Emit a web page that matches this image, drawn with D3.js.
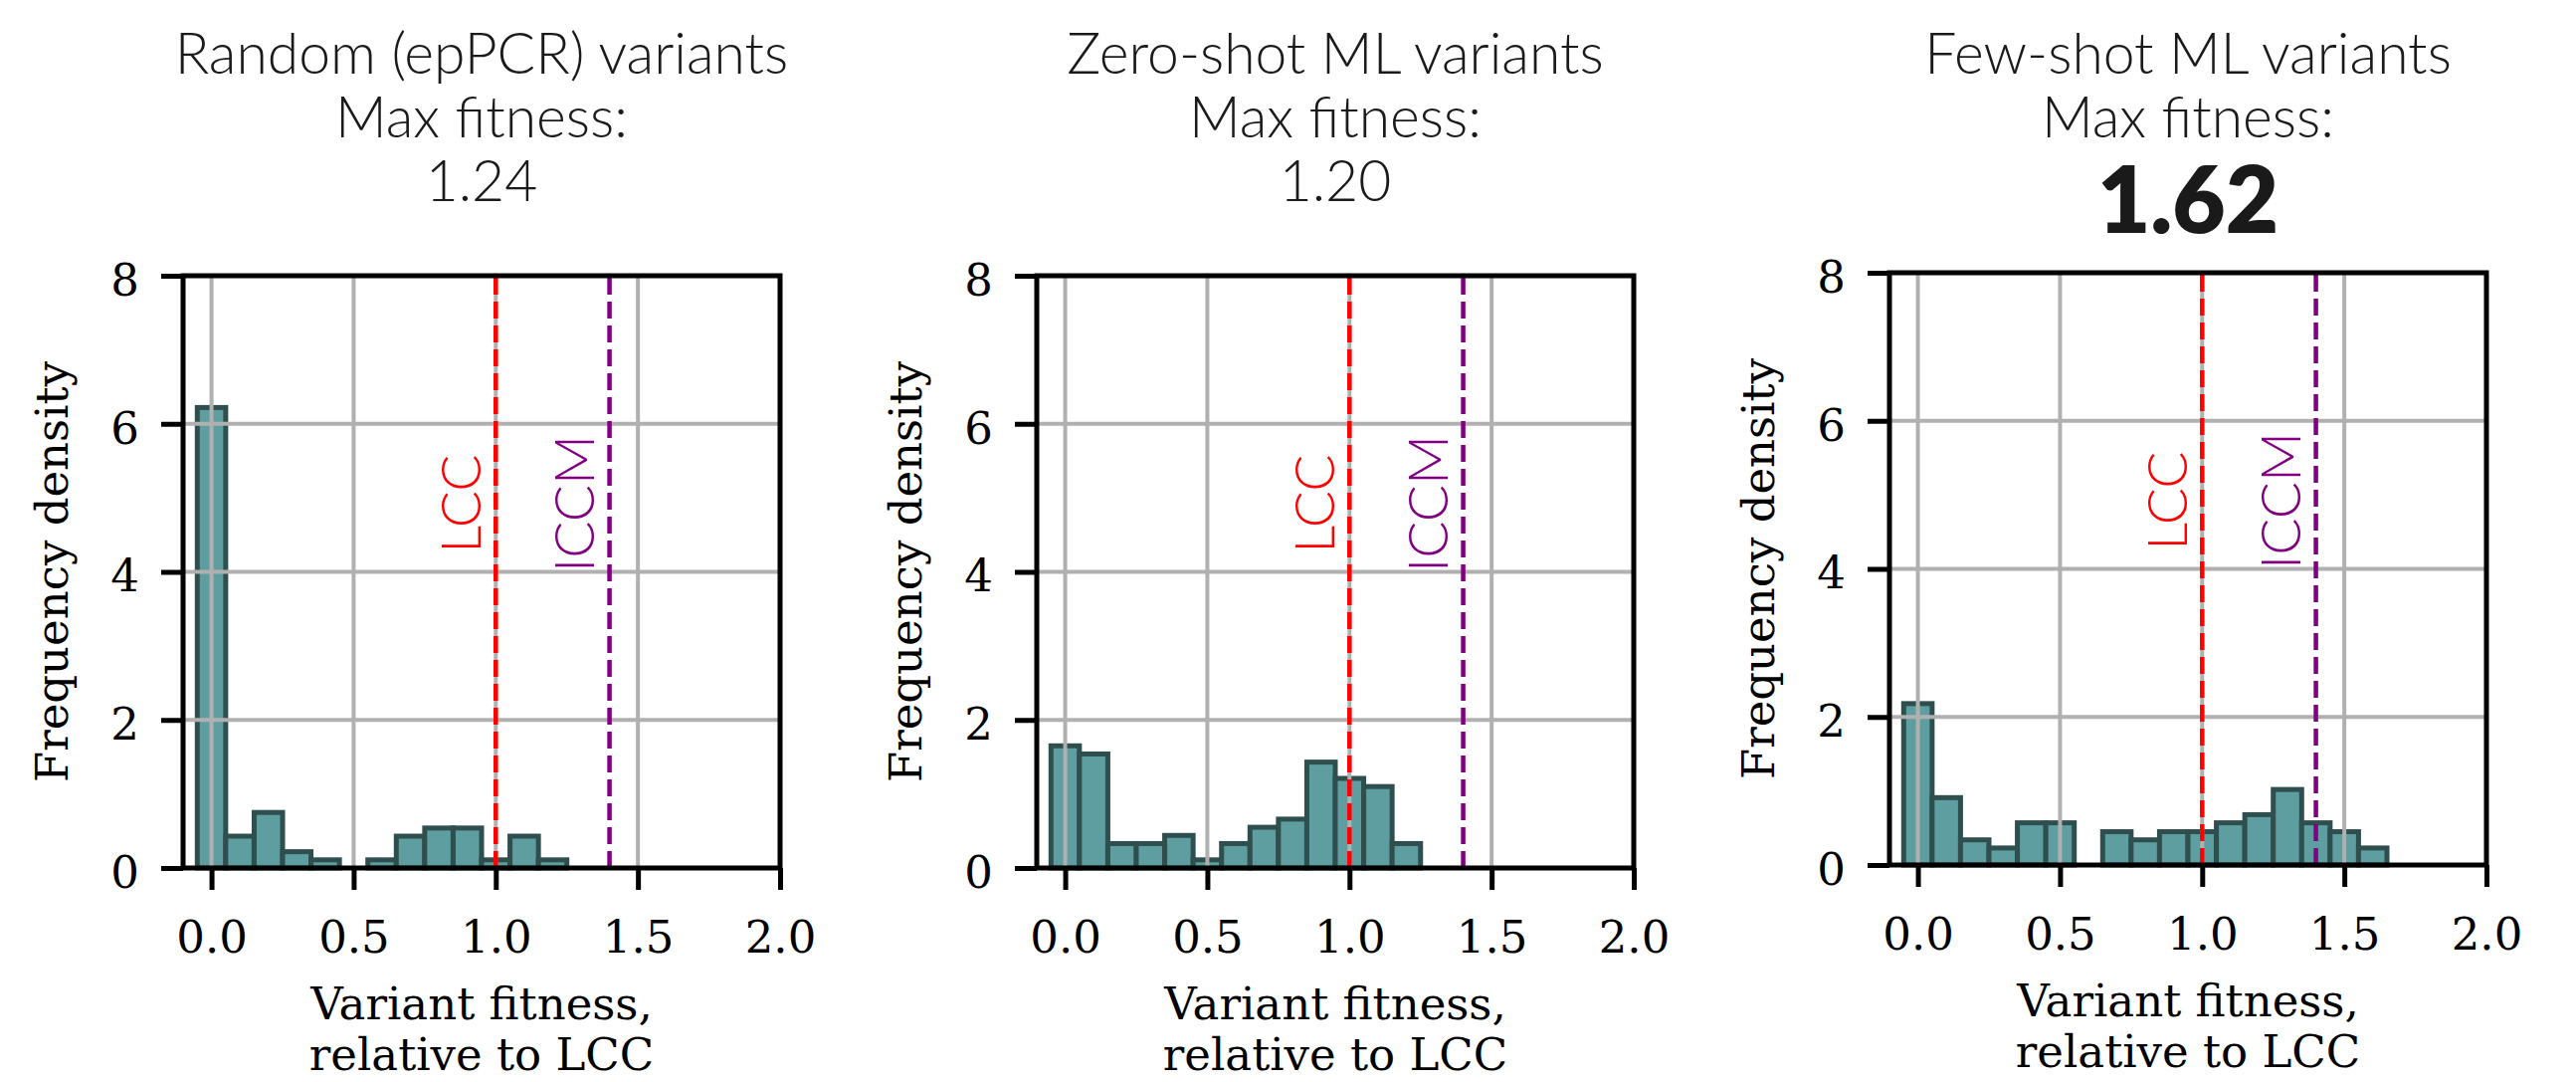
<!DOCTYPE html>
<html>
<head>
    <meta charset="utf-8" />
    <title>Variant fitness</title>
    <script src="https://cdnjs.cloudflare.com/ajax/libs/d3/7.8.5/d3.min.js"></script>
    <style>
        body { margin: 0; background: #fff; }
        svg { display: block; }
    </style>
</head>
<body>
<script>
    // panel headings
    var panelNames = ["Random (epPCR) variants", "Zero-shot ML variants", "Few-shot ML variants"];
    var maxFitness = ["1.24", "1.20", "1.62"];

    // histogram bins (centres, width 0.1) and frequency densities
    var randomBins = [0.0, 0.1, 0.2, 0.3, 0.4, 0.5, 0.6, 0.7, 0.8, 0.9, 1.0, 1.1, 1.2];
    var randomDensity = [6.22, 0.43, 0.75, 0.22, 0.11, 0, 0.11, 0.43, 0.54, 0.54, 0.11, 0.43, 0.11];

    var zeroShotBins = [0.0, 0.1, 0.2, 0.3, 0.4, 0.5, 0.6, 0.7, 0.8, 0.9, 1.0, 1.1, 1.2];
    var zeroShotDensity = [1.65, 1.54, 0.33, 0.33, 0.44, 0.11, 0.33, 0.55, 0.66, 1.43, 1.21, 1.10, 0.33];

    var fewShotBins = [0.0, 0.1, 0.2, 0.3, 0.4, 0.5, 0.6, 0.7, 0.8, 0.9, 1.0, 1.1, 1.2, 1.3, 1.4, 1.5, 1.6];
    var fewShotDensity = [2.18, 0.91, 0.34, 0.23, 0.57, 0.57, 0, 0.45, 0.34, 0.45, 0.45, 0.57, 0.68, 1.02, 0.57, 0.45, 0.23];

    // reference variants
    var refLabels = ["LCC", "ICCM"];
    var refValues = [1.0, 1.4];

    // axes
    var xTicks = [0.0, 0.5, 1.0, 1.5, 2.0];
    var yTicks = [0, 2, 4, 6, 8];
    var xDomain = [-0.1, 2.0];
    var yDomain = [0, 8];
    var binWidth = 0.1;

    var panels = [
        { bins: randomBins, density: randomDensity },
        { bins: zeroShotBins, density: zeroShotDensity },
        { bins: fewShotBins, density: fewShotDensity }
    ];

    // layout
    var width = 2589;
    var height = 1087;
    var plotW = 600;
    var plotH = 595;
    var panelLeft = [184, 1042, 1899];
    var panelTop = [277, 277, 274];
    var refColors = ["#ff0000", "#800080"];

    var sans = "Lato, 'Open Sans', sans-serif";
    var serif = "'DejaVu Serif', serif";

    var svg = d3.select("body")
        .append("svg")
        .attr("width", width)
        .attr("height", height);

    panels.forEach(function (p, i) {
        var cx = panelLeft[i] + plotW / 2;

        // title block
        var title = svg.append("g")
            .attr("font-family", sans)
            .attr("fill", "#1a1a1a")
            .attr("text-anchor", "middle");
        title.append("text").attr("x", cx).attr("y", 74)
            .attr("font-size", 57).attr("font-weight", 300).text(panelNames[i]);
        title.append("text").attr("x", cx).attr("y", 138)
            .attr("font-size", 57).attr("font-weight", 300).text("Max fitness:");
        if (i === 2) {
            // best result is set in heavy type
            title.append("text").attr("x", cx).attr("y", 234)
                .attr("font-size", 92).attr("font-weight", 800).text(maxFitness[i]);
        } else {
            title.append("text").attr("x", cx).attr("y", 202)
                .attr("font-size", 57).attr("font-weight", 300).text(maxFitness[i]);
        }

        var g = svg.append("g")
            .attr("transform", "translate(" + panelLeft[i] + "," + panelTop[i] + ")");

        var x = d3.scaleLinear().domain(xDomain).range([0, plotW]);
        var y = d3.scaleLinear().domain(yDomain).range([plotH, 0]);

        var rows = d3.zip(p.bins, p.density).filter(function (d) { return d[1] > 0; });

        g.selectAll("rect.bar")
            .data(rows).enter()
            .append("rect")
            .attr("class", "bar")
            .attr("x", function (d) { return x(d[0] - binWidth / 2); })
            .attr("width", function (d) { return x(d[0] + binWidth / 2) - x(d[0] - binWidth / 2); })
            .attr("y", function (d) { return y(d[1]); })
            .attr("height", function (d) { return y(0) - y(d[1]); })
            .attr("fill", "#5f9ea0")
            .attr("stroke", "#2f4f4f")
            .attr("stroke-width", 5);

        // grid sits above the bars, like matplotlib
        g.selectAll("line.vgrid")
            .data(xTicks).enter()
            .append("line")
            .attr("x1", x).attr("x2", x)
            .attr("y1", 0).attr("y2", plotH)
            .attr("stroke", "#b0b0b0").attr("stroke-width", 4);
        g.selectAll("line.hgrid")
            .data(yTicks).enter()
            .append("line")
            .attr("y1", y).attr("y2", y)
            .attr("x1", 0).attr("x2", plotW)
            .attr("stroke", "#b0b0b0").attr("stroke-width", 4);

        // LCC / ICCM markers
        refValues.forEach(function (v, k) {
            g.append("line")
                .attr("x1", x(v)).attr("x2", x(v))
                .attr("y1", y(0)).attr("y2", y(8))
                .attr("stroke", refColors[k])
                .attr("stroke-width", 4.5)
                .attr("stroke-dasharray", "17,7");
            g.append("text")
                .attr("transform", "translate(" + x(v - 0.055) + "," + y(4.92) + ") rotate(-90)")
                .attr("text-anchor", "middle")
                .attr("font-family", sans)
                .attr("font-weight", 300)
                .attr("font-size", 55)
                .attr("fill", refColors[k])
                .text(refLabels[k]);
        });

        // axes
        var xAxis = g.append("g")
            .attr("transform", "translate(0," + plotH + ")")
            .call(d3.axisBottom(x).tickValues(xTicks).tickSize(22).tickPadding(31)
                .tickFormat(d3.format(".1f")));
        var yAxis = g.append("g")
            .call(d3.axisLeft(y).tickValues(yTicks).tickSize(22).tickPadding(22)
                .tickFormat(d3.format("d")));

        [xAxis, yAxis].forEach(function (a) {
            a.select(".domain").remove();
            a.selectAll(".tick line").attr("stroke", "#000").attr("stroke-width", 5);
            a.selectAll(".tick text")
                .attr("font-family", serif)
                .attr("font-size", 45)
                .attr("fill", "#000");
        });
        yAxis.selectAll(".tick text").attr("dy", "0.43em");

        // frame
        g.append("rect")
            .attr("width", plotW).attr("height", plotH)
            .attr("fill", "none")
            .attr("stroke", "#000")
            .attr("stroke-width", 5);

        // axis labels
        g.append("text")
            .attr("transform", "translate(-116," + (plotH / 2) + ") rotate(-90)")
            .attr("text-anchor", "middle")
            .attr("font-family", serif)
            .attr("font-size", 45)
            .text("Frequency density");

        var xl = g.append("text")
            .attr("text-anchor", "middle")
            .attr("font-family", serif)
            .attr("font-size", 45);
        xl.append("tspan").attr("x", plotW / 2).attr("y", plotH + 152).text("Variant fitness,");
        xl.append("tspan").attr("x", plotW / 2).attr("y", plotH + 203).text("relative to LCC");
    });
</script>
</body>
</html>
